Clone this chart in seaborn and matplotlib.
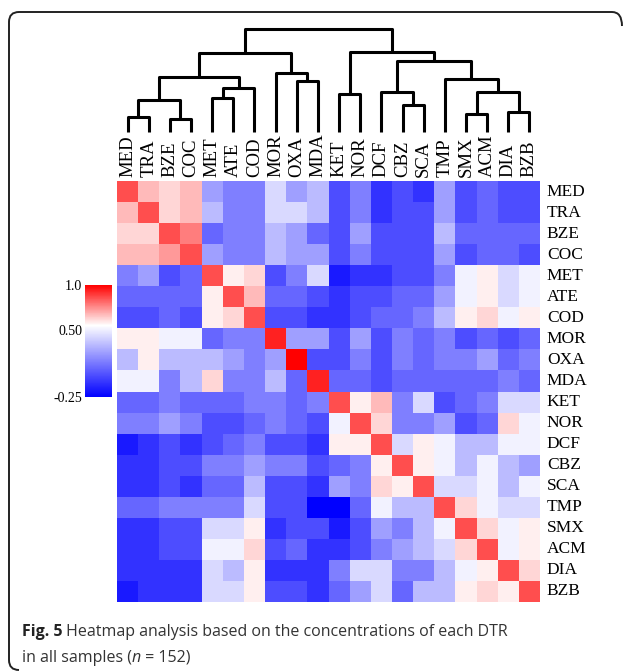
import matplotlib
matplotlib.use("Agg")
import matplotlib.pyplot as plt
import numpy as np
import pandas as pd
import seaborn as sns
from matplotlib.colors import LinearSegmentedColormap
from matplotlib.path import Path
from matplotlib.patches import PathPatch

labels = ["MED", "TRA", "BZE", "COC", "MET", "ATE", "COD", "MOR", "OXA", "MDA",
          "KET", "NOR", "DCF", "CBZ", "SCA", "TMP", "SMX", "ACM", "DIA", "BZB"]

# correlation values (rows top to bottom)
corr_rows = [
    [0.86, 0.67, 0.62, 0.67, 0.25, 0.15, 0.15, 0.43, 0.25, 0.34, -0.01, 0.15, -0.09, -0.01, -0.09, 0.25, -0.01, 0.07, -0.01, -0.01],
    [0.67, 0.86, 0.62, 0.67, 0.34, 0.15, 0.15, 0.43, 0.43, 0.34, -0.01, 0.15, -0.09, -0.01, -0.01, 0.25, -0.01, 0.07, -0.01, -0.01],
    [0.62, 0.62, 0.86, 0.78, 0.07, 0.15, 0.15, 0.34, 0.25, 0.07, -0.01, 0.25, -0.01, -0.01, -0.01, 0.34, 0.07, 0.07, 0.07, 0.07],
    [0.67, 0.67, 0.73, 0.86, 0.25, 0.15, 0.15, 0.34, 0.25, 0.25, -0.01, 0.15, -0.01, -0.01, -0.01, 0.25, -0.01, 0.07, 0.07, -0.01],
    [0.15, 0.25, -0.01, 0.07, 0.86, 0.58, 0.62, -0.01, 0.15, 0.43, -0.17, -0.09, -0.09, -0.01, -0.01, 0.15, 0.51, 0.58, 0.43, 0.51],
    [0.07, 0.07, 0.07, 0.07, 0.58, 0.86, 0.67, 0.07, 0.07, -0.01, -0.09, -0.01, -0.01, 0.07, 0.07, 0.25, 0.51, 0.58, 0.43, 0.51],
    [-0.01, -0.01, 0.07, -0.01, 0.58, 0.62, 0.86, -0.01, -0.01, -0.09, -0.09, -0.01, 0.07, 0.07, 0.15, 0.34, 0.58, 0.62, 0.51, 0.58],
    [0.58, 0.58, 0.51, 0.51, 0.07, 0.15, 0.15, 0.94, 0.25, 0.25, -0.01, 0.25, -0.01, 0.15, 0.07, 0.15, -0.01, 0.07, -0.01, 0.07],
    [0.34, 0.58, 0.34, 0.34, 0.34, 0.25, 0.15, 0.25, 1.00, -0.01, -0.01, 0.15, -0.01, 0.15, 0.07, 0.15, 0.15, 0.25, 0.07, 0.15],
    [0.51, 0.51, 0.15, 0.34, 0.62, 0.15, 0.15, 0.34, 0.07, 0.94, 0.07, 0.07, -0.01, 0.07, 0.07, 0.07, 0.07, 0.07, 0.15, 0.07],
    [0.07, 0.07, 0.15, 0.07, 0.07, 0.07, 0.15, 0.15, 0.07, 0.15, 0.86, 0.58, 0.67, 0.15, 0.43, -0.01, 0.07, 0.15, 0.43, 0.43],
    [0.15, 0.15, 0.25, 0.15, -0.01, -0.01, 0.07, 0.15, 0.07, -0.01, 0.51, 0.86, 0.62, 0.15, 0.15, 0.25, -0.01, 0.07, 0.62, 0.51],
    [-0.17, -0.09, -0.01, -0.09, -0.01, 0.07, 0.15, -0.01, -0.01, -0.09, 0.58, 0.58, 0.86, 0.43, 0.58, 0.51, 0.34, 0.34, 0.51, 0.51],
    [-0.09, -0.09, -0.01, -0.01, 0.15, 0.15, 0.25, 0.15, 0.15, -0.01, 0.07, 0.15, 0.58, 0.86, 0.58, 0.51, 0.34, 0.51, 0.34, 0.25],
    [-0.09, -0.09, -0.01, -0.09, 0.07, 0.07, 0.34, -0.01, -0.01, -0.09, 0.25, 0.15, 0.62, 0.58, 0.86, 0.43, 0.43, 0.51, 0.34, 0.51],
    [0.07, 0.07, 0.15, 0.15, 0.15, 0.15, 0.43, -0.01, -0.01, -0.25, -0.25, 0.07, 0.51, 0.34, 0.34, 0.86, 0.62, 0.51, 0.43, 0.43],
    [-0.09, -0.09, -0.01, -0.01, 0.43, 0.43, 0.58, -0.09, -0.01, -0.01, -0.17, -0.01, 0.25, 0.15, 0.34, 0.51, 0.86, 0.62, 0.51, 0.58],
    [-0.09, -0.09, -0.01, -0.01, 0.51, 0.51, 0.62, -0.01, 0.07, -0.09, -0.09, -0.01, 0.15, 0.25, 0.34, 0.43, 0.62, 0.86, 0.51, 0.58],
    [-0.09, -0.09, -0.09, -0.09, 0.43, 0.34, 0.58, -0.09, -0.09, -0.09, 0.15, 0.43, 0.43, 0.15, 0.15, 0.34, 0.51, 0.58, 0.86, 0.62],
    [-0.17, -0.09, -0.09, -0.09, 0.43, 0.43, 0.58, -0.01, -0.01, -0.09, 0.07, 0.25, 0.43, 0.07, 0.34, 0.34, 0.58, 0.62, 0.58, 0.86],
]

# dendrogram merges: (left, right, height); leaves are 0..19, new clusters from 20
merges = [
    (0, 1, 15), (2, 3, 13), (20, 21, 32),
    (4, 5, 34), (23, 6, 44), (22, 24, 55),
    (8, 9, 51), (7, 26, 59), (25, 27, 79),
    (10, 11, 38), (13, 14, 27), (12, 30, 40),
    (16, 17, 18), (18, 19, 20), (32, 33, 40),
    (15, 34, 53), (31, 35, 71), (29, 36, 80),
    (28, 37, 103),
]

cbar_ticks = [-0.25, 0.5, 1.0]
cbar_labels = ["-0.25", "0.50", "1.0"]

W, H = 629, 672
serif = "Liberation Serif"
sans = ["Open Sans", "DejaVu Sans"]

df = pd.DataFrame(corr_rows, index=labels, columns=labels)
cmap = LinearSegmentedColormap.from_list(
    "bwr_dtr", [(0.0, "#0000ff"), (0.64, "#ffffff"), (1.0, "#ff0000")])

fig = plt.figure(figsize=(W / 100, H / 100), dpi=100)


def frac(x0, y0, x1, y1):
    # pixel box (top-left origin) -> figure fraction rect
    return [x0 / W, 1 - y1 / H, (x1 - x0) / W, (y1 - y0) / H]


ax = fig.add_axes(frac(117, 181, 540, 602))
cax = fig.add_axes(frac(85, 285, 112, 397))
sns.heatmap(df, cmap=cmap, vmin=-0.25, vmax=1.0, ax=ax, cbar_ax=cax,
            xticklabels=labels, yticklabels=labels)

ax.xaxis.tick_top()
ax.yaxis.tick_right()
ax.tick_params(length=0, pad=3)
ax.tick_params(axis="y", pad=5)
for t in ax.get_xticklabels():
    t.set_rotation(90)
    t.set_va("bottom")
    t.set_fontfamily(serif)
    t.set_fontsize(13.5)
for t in ax.get_yticklabels():
    t.set_rotation(0)
    t.set_va("center")
    t.set_fontfamily(serif)
    t.set_fontsize(12.5)

cbar = ax.collections[0].colorbar
cbar.outline.set_visible(False)
cax.yaxis.tick_left()
cax.set_yticks(cbar_ticks)
cax.set_yticklabels(cbar_labels, fontfamily=serif, fontsize=10)
cax.tick_params(length=0, pad=2)

# dendrogram on top
dax = fig.add_axes(frac(117, 29, 540, 132))
pos = {i: i + 0.5 for i in range(len(labels))}
hgt = {i: 0 for i in range(len(labels))}
for k, (a, b, h) in enumerate(merges):
    node = len(labels) + k
    dax.plot([pos[a], pos[a], pos[b], pos[b]], [hgt[a], h, h, hgt[b]],
             color="black", lw=2.2, solid_capstyle="butt", clip_on=False)
    pos[node] = (pos[a] + pos[b]) / 2
    hgt[node] = h
dax.set_xlim(0, len(labels))
dax.set_ylim(0, merges[-1][2])
dax.axis("off")

# rounded frame (open at bottom and right)
pts = [(622, 26), (622, 12), (612, 12), (19, 12), (9, 12), (9, 22),
       (9, 660), (9, 670), (19, 670)]
codes = [Path.MOVETO, Path.CURVE3, Path.CURVE3, Path.LINETO, Path.CURVE3, Path.CURVE3,
         Path.LINETO, Path.CURVE3, Path.CURVE3]
verts = [(x / W, 1 - y / H) for x, y in pts]
fig.patches.append(PathPatch(Path(verts, codes), fill=False, edgecolor="#222222",
                             lw=1.4, transform=fig.transFigure))

# caption
cap_kw = dict(fontsize=11.5, family=sans, color="#333333", va="bottom")
t1 = fig.text(22 / W, 1 - 640 / H, "Fig. 5", fontweight="bold",
              **{**cap_kw, "color": "#222222"})
ax.annotate(" Heatmap analysis based on the concentrations of each DTR",
            xy=(1, 0), xycoords=t1, annotation_clip=False, **cap_kw)
t2 = fig.text(22 / W, 1 - 666 / H, "in all samples (", **cap_kw)
t3 = ax.annotate("n", xy=(1, 0), xycoords=t2, style="italic",
                 annotation_clip=False, **cap_kw)
ax.annotate(" = 152)", xy=(1, 0), xycoords=t3, annotation_clip=False, **cap_kw)

fig.savefig("out.png", dpi=100)
